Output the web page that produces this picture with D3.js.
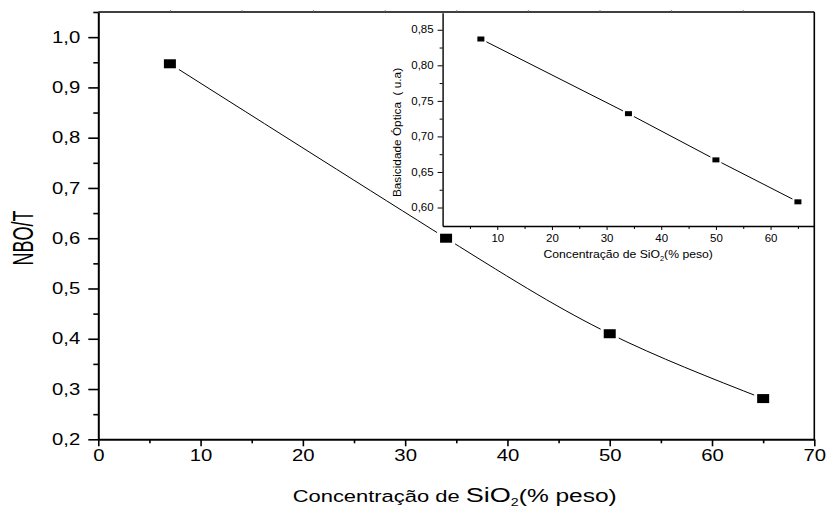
<!DOCTYPE html>
<html>
<head>
<meta charset="utf-8">
<script src="https://cdn.jsdelivr.net/npm/d3@7"></script>
<style>
  html, body { margin: 0; padding: 0; background: #fff; }
  svg { display: block; font-family: "Liberation Sans", Arial, sans-serif; }
</style>
</head>
<body>
<svg id="chart" width="827" height="508"></svg>
<script>
// ---- data ----
const mainX = [7, 34, 50, 65];
const mainY = [0.947, 0.600, 0.410, 0.281];
const insetX = [7, 34, 50, 65];
const insetY = [0.837, 0.732, 0.667, 0.608];
const mainXTicks = [0, 10, 20, 30, 40, 50, 60, 70];
const mainXMinor = [5, 15, 25, 35, 45, 55, 65];
const mainYTicks = [0.2, 0.3, 0.4, 0.5, 0.6, 0.7, 0.8, 0.9, 1.0];
const mainYMinor = [0.25, 0.35, 0.45, 0.55, 0.65, 0.75, 0.85, 0.95, 1.05];
const mainTopTicks = [7, 14, 21, 28, 35, 42, 49, 56, 63];
const insetXTicks = [10, 20, 30, 40, 50, 60];
const insetXMinor = [5, 15, 25, 35, 45, 55, 65];
const insetYTicks = [0.60, 0.65, 0.70, 0.75, 0.80, 0.85];
const insetYMinor = [0.625, 0.675, 0.725, 0.775, 0.825];

const locale = d3.formatLocale({decimal: ",", thousands: ".", grouping: [3], currency: ["", ""]});
const f1 = locale.format(".1f");
const f2 = locale.format(".2f");

const svg = d3.select("#chart");
svg.append("rect").attr("width", 827).attr("height", 508).attr("fill", "#fff");

// ---- main scales ----
const x = d3.scaleLinear().domain([0, 70]).range([98.3, 814.3]);
const y = d3.scaleLinear().domain([0.2, 1.05]).range([439.3, 12]);
const SX = 1.27;

// frame top/right
svg.append("line").attr("x1", x(0)).attr("x2", x(70)).attr("y1", y(1.05)).attr("y2", y(1.05))
  .attr("stroke", "#000").attr("stroke-width", 1.6);
svg.append("line").attr("x1", x(70)).attr("x2", x(70)).attr("y1", y(1.05)).attr("y2", y(0.2))
  .attr("stroke", "#000").attr("stroke-width", 1.6);

// top small ticks
const gTop = svg.append("g").attr("transform", `translate(0,${y(1.05)})`)
  .call(d3.axisTop(x).tickValues(mainTopTicks).tickSize(2).tickFormat(""));
gTop.select(".domain").remove();
gTop.selectAll("line").attr("stroke", "#666").attr("stroke-width", 0.8);

// left axis
const gL = svg.append("g").attr("transform", `translate(${x(0)},0)`)
  .call(d3.axisLeft(y).tickValues(mainYTicks).tickSize(10).tickSizeOuter(0).tickPadding(8).tickFormat(f1));
gL.select(".domain").attr("stroke-width", 2);
gL.selectAll(".tick line").attr("stroke-width", 1.6);
gL.selectAll("text").attr("font-size", 16).attr("font-family", "Liberation Sans, Arial, sans-serif")
  .attr("x", 0).attr("transform", `translate(-18,0) scale(${SX},1)`);
const gLm = svg.append("g").attr("transform", `translate(${x(0)},0)`)
  .call(d3.axisLeft(y).tickValues(mainYMinor).tickSize(5).tickSizeOuter(0).tickFormat(""));
gLm.select(".domain").remove();
gLm.selectAll("line").attr("stroke-width", 1.6);

// bottom axis
const gB = svg.append("g").attr("transform", `translate(0,${y(0.2)})`)
  .call(d3.axisBottom(x).tickValues(mainXTicks).tickSize(7).tickSizeOuter(0).tickPadding(3).tickFormat(d3.format("d")));
gB.select(".domain").attr("stroke-width", 2);
gB.selectAll(".tick line").attr("stroke-width", 1.6);
gB.selectAll("text").attr("font-size", 16).attr("font-family", "Liberation Sans, Arial, sans-serif")
  .attr("transform", `scale(${SX},1)`);
const gBm = svg.append("g").attr("transform", `translate(0,${y(0.2)})`)
  .call(d3.axisBottom(x).tickValues(mainXMinor).tickSize(4).tickSizeOuter(0).tickFormat(""));
gBm.select(".domain").remove();
gBm.selectAll("line").attr("stroke-width", 1.6);

// axis titles
const xt = svg.append("text").attr("text-anchor", "middle")
  .attr("transform", `translate(454.7,501.7) scale(1.29,1)`).attr("fill", "#000");
xt.append("tspan").attr("font-size", 17).text("Concentração de ");
xt.append("tspan").attr("font-size", 21).text("SiO");
xt.append("tspan").attr("font-size", 11).attr("dy", 4).text("2");
xt.append("tspan").attr("font-size", 19).attr("dy", -4).text("(% peso)");

svg.append("text").attr("text-anchor", "middle").attr("font-size", 18)
  .attr("transform", `translate(32.5,238) scale(1.6,1) rotate(-90)`).text("NBO/T");

// main line + markers
const mainData = mainX.map((d, i) => ({x: d, y: mainY[i]}));
svg.append("path").datum(mainData)
  .attr("d", d3.line().x(d => x(d.x)).y(d => y(d.y)).curve(d3.curveNatural))
  .attr("fill", "none").attr("stroke", "#000").attr("stroke-width", 1);
svg.selectAll(".mhalo").data(mainData).join("rect")
  .attr("x", d => x(d.x) - 9).attr("y", d => y(d.y) - 7.5).attr("width", 18).attr("height", 15).attr("fill", "#fff");
svg.selectAll(".mmark").data(mainData).join("rect")
  .attr("x", d => x(d.x) - 6).attr("y", d => y(d.y) - 4.5).attr("width", 12).attr("height", 9).attr("fill", "#000");

// ---- inset ----
const ix = d3.scaleLinear().domain([0, 68]).range([442.6, 814.3]);
const iy = d3.scaleLinear().domain([0.574, 0.874]).range([226, 12.7]);
const SI = 1.15;

const giL = svg.append("g").attr("transform", `translate(${ix(0)},0)`)
  .call(d3.axisLeft(iy).tickValues(insetYTicks).tickSize(5).tickSizeOuter(0).tickPadding(4).tickFormat(f2));
giL.select(".domain").attr("stroke-width", 1.4);
giL.selectAll(".tick line").attr("stroke-width", 1);
giL.selectAll("text").attr("font-size", 10).attr("font-family", "Liberation Sans, Arial, sans-serif")
  .attr("x", 0).attr("transform", `translate(-9,0) scale(${SI},1)`);
const giLm = svg.append("g").attr("transform", `translate(${ix(0)},0)`)
  .call(d3.axisLeft(iy).tickValues(insetYMinor).tickSize(3).tickSizeOuter(0).tickFormat(""));
giLm.select(".domain").remove();
giLm.selectAll("line").attr("stroke-width", 1);

const giB = svg.append("g").attr("transform", `translate(0,${iy(0.574)})`)
  .call(d3.axisBottom(ix).tickValues(insetXTicks).tickSize(4).tickSizeOuter(0).tickPadding(5).tickFormat(d3.format("d")));
giB.select(".domain").attr("stroke-width", 1.4);
giB.selectAll(".tick line").attr("stroke-width", 1);
giB.selectAll("text").attr("font-size", 10).attr("font-family", "Liberation Sans, Arial, sans-serif")
  .attr("transform", `scale(${SI},1)`);
const giBm = svg.append("g").attr("transform", `translate(0,${iy(0.574)})`)
  .call(d3.axisBottom(ix).tickValues(insetXMinor).tickSize(3).tickSizeOuter(0).tickFormat(""));
giBm.select(".domain").remove();
giBm.selectAll("line").attr("stroke-width", 1);

const ixt = svg.append("text").attr("text-anchor", "middle")
  .attr("transform", `translate(628.2,258) scale(1.06,1)`).attr("font-size", 11.5);
ixt.append("tspan").text("Concentração de SiO");
ixt.append("tspan").attr("font-size", 7).attr("dy", 3).text("2");
ixt.append("tspan").attr("dy", -3).text("(% peso)");

svg.append("text").attr("text-anchor", "middle").attr("font-size", 11.8)
  .attr("transform", `translate(400.5,132.5) rotate(-90)`).text("Basicidade Óptica  ( u.a)")
  .attr("xml:space", "preserve").style("white-space", "pre");

const insetData = insetX.map((d, i) => ({x: d, y: insetY[i]}));
svg.append("path").datum(insetData)
  .attr("d", d3.line().x(d => ix(d.x)).y(d => iy(d.y)))
  .attr("fill", "none").attr("stroke", "#000").attr("stroke-width", 1);
svg.selectAll(".ihalo").data(insetData).join("rect")
  .attr("x", d => ix(d.x) - 5.5).attr("y", d => iy(d.y) - 4.5).attr("width", 11).attr("height", 9).attr("fill", "#fff");
svg.selectAll(".imark").data(insetData).join("rect")
  .attr("x", d => ix(d.x) - 3.5).attr("y", d => iy(d.y) - 2.5).attr("width", 7).attr("height", 5).attr("fill", "#000");
</script>
</body>
</html>
